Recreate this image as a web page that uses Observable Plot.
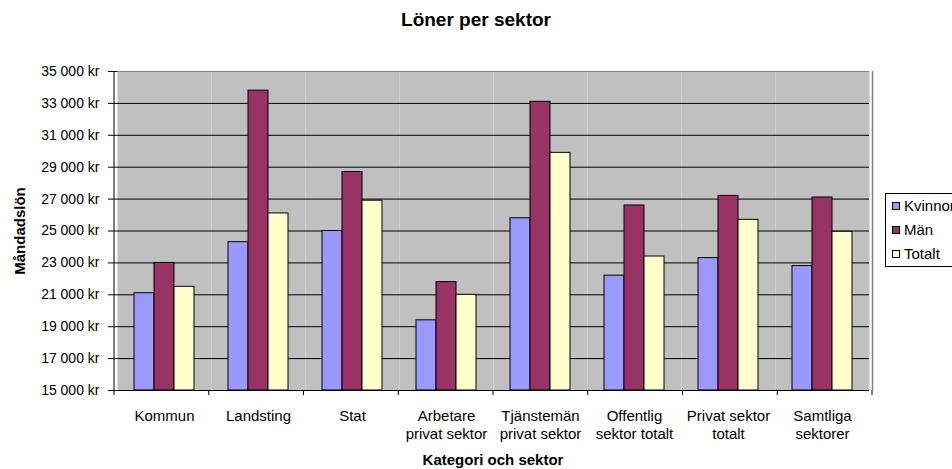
<!DOCTYPE html>
<html>
<head>
<meta charset="utf-8">
<script src="https://cdn.jsdelivr.net/npm/d3@7"></script>
<script src="https://cdn.jsdelivr.net/npm/@observablehq/plot@0.6"></script>
<style>
  html, body { margin: 0; padding: 0; background: #fff; }
  body { font-family: "Liberation Sans", Arial, sans-serif; color: #000; }
  #wrap { position: relative; width: 952px; height: 469px; overflow: hidden; }
  #chart { position: absolute; left: 0; top: 0; }
  .title { position: absolute; left: 0; width: 952px; top: 10px; text-align: center;
           font-weight: bold; font-size: 19px; line-height: 1; }
  .xlabel { position: absolute; left: 114px; width: 758px; top: 452px; text-align: center;
            font-weight: bold; font-size: 15px; line-height: 1; }
  .ylabel { position: absolute; left: 19px; top: 231px; transform: translate(-50%, -50%) rotate(-90deg);
            font-weight: bold; font-size: 15px; line-height: 1; white-space: nowrap; }
  .legend { position: absolute; left: 885px; top: 193px; width: 90px; border: 1px solid #000;
            background: #fff; font-size: 15px; }
  .legend .row { height: 24px; line-height: 24px; display: flex; align-items: center; padding-left: 6px; white-space: nowrap; }
  .legend .sw { width: 6px; height: 6px; border: 1px solid #000; margin-right: 4px; flex: none; }
</style>
</head>
<body>
<div id="wrap">
  <div id="chart"></div>
  <div class="title">Löner per sektor</div>
  <div class="ylabel">Måndadslön</div>
  <div class="xlabel">Kategori och sektor</div>
  <div class="legend" id="legend"></div>
</div>
<script>
// ---- data ----
const categories = [
  "Kommun", "Landsting", "Stat", "Arbetare\nprivat sektor", "Tjänstemän\nprivat sektor",
  "Offentlig\nsektor totalt", "Privat sektor\ntotalt", "Samtliga\nsektorer"
];
const series = ["Kvinnor", "Män", "Totalt"];
const kvinnor = [21100, 24300, 25000, 19400, 25800, 22200, 23300, 22800];
const man     = [23000, 33800, 28700, 21800, 33100, 26600, 27200, 27100];
const totalt  = [21500, 26100, 26900, 21000, 29900, 23400, 25700, 24950];
const yTicks  = [15000, 17000, 19000, 21000, 23000, 25000, 27000, 29000, 31000, 33000, 35000];
const colors  = ["#9999FF", "#993366", "#FFFFCC"];

const valuesBySeries = [kvinnor, man, totalt];
const data = [];
categories.forEach((c, i) => {
  series.forEach((s, j) => data.push({cat: c, series: s, value: valuesBySeries[j][i]}));
});

const fmtNum = d3.formatLocale({decimal: ",", thousands: " ", grouping: [3], currency: ["", " kr"]}).format(",");
const fmt = d => fmtNum(d) + " kr";

const W = 952, H = 469;
const plot = Plot.plot({
  width: W, height: H,
  marginLeft: 114, marginRight: 80, marginTop: 71, marginBottom: 79,
  style: {fontFamily: "'Liberation Sans', Arial, sans-serif", fontSize: "15px", color: "#000", background: "transparent", overflow: "visible"},
  fx: {domain: categories, padding: 0, label: null},
  x: {domain: series, paddingInner: 0, paddingOuter: 0.75, axis: null},
  y: {domain: [15000, 35000], label: null},
  color: {domain: series, range: colors},
  marks: [
    Plot.frame({fill: "#c0c0c0"}),
    Plot.gridY(yTicks.slice(1, -1), {stroke: "#000", strokeOpacity: 1}),
    Plot.ruleY([35000], {stroke: "#808080"}),
    Plot.barY(data, {fx: "cat", x: "series", y1: 15000, y2: "value", fill: "series", stroke: "#000", strokeWidth: 1}),
    Plot.ruleY([15000], {stroke: "#000"}),
    Plot.axisY(yTicks, {tickFormat: fmt, tickSize: 9, tickPadding: 9, fontSize: 14, label: null, stroke: "#000"}),
    Plot.axisFx({anchor: "bottom", tickSize: 0, tickPadding: 18, lineHeight: 1.2, label: null, fontSize: 15})
  ]
});
document.getElementById("chart").appendChild(plot);

// axis line, right border and category boundary ticks from the scales
const fxs = plot.scale("fx");
const ys = plot.scale("y");
const [r0, r1] = fxs.range;
const step = (r1 - r0) / categories.length;
const yTop = ys.apply(35000), yBot = ys.apply(15000);
const svg = d3.select(plot);
const g = svg.append("g");
g.append("line").attr("x1", r1 + 0.5).attr("x2", r1 + 0.5).attr("y1", yTop).attr("y2", yBot).attr("stroke", "#808080").attr("stroke-width", 1.5);
g.append("line").attr("x1", r0).attr("x2", r0).attr("y1", yTop).attr("y2", yBot + 0.5).attr("stroke", "#000");
d3.range(categories.length + 1).forEach(i => {
  const x = r0 + i * step;
  g.append("line").attr("x1", x).attr("x2", x).attr("y1", yBot).attr("y2", yBot + 5).attr("stroke", "#000");
});

// legend
const leg = d3.select("#legend");
series.forEach((s, j) => {
  const row = leg.append("div").attr("class", "row");
  row.append("div").attr("class", "sw").style("background", colors[j]);
  row.append("span").text(s);
});
</script>
</body>
</html>
